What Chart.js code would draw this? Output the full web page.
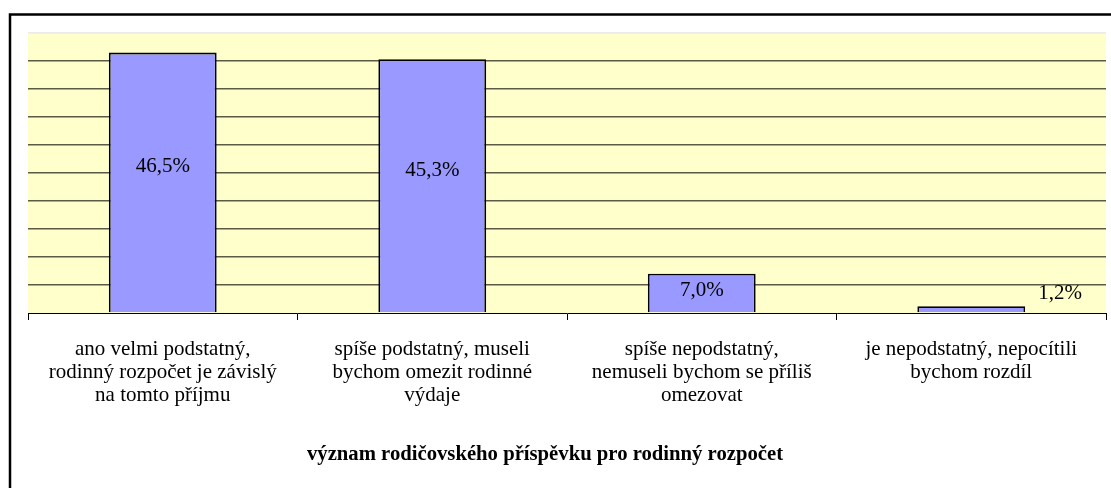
<!DOCTYPE html>
<html>
<head>
<meta charset="utf-8">
<script src="https://cdn.jsdelivr.net/npm/chart.js@4.4.0/dist/chart.umd.min.js"></script>
<style>
  html, body { margin: 0; padding: 0; background: #fff; }
</style>
</head>
<body>
<canvas id="graf" width="1111" height="488"></canvas>
<script>
// data
const kategorie = [
    ['ano velmi podstatný,', 'rodinný rozpočet je závislý', 'na tomto příjmu'],
    ['spíše podstatný, museli', 'bychom omezit rodinné', 'výdaje'],
    ['spíše nepodstatný,', 'nemuseli bychom se příliš', 'omezovat'],
    ['je nepodstatný, nepocítili', 'bychom rozdíl']
];
const podily = [46.5, 45.3, 7.0, 1.2];
const popisky = ['46,5%', '45,3%', '7,0%', '1,2%'];
const nazevOsy = 'význam rodičovského příspěvku pro rodinný rozpočet';

const pismo = '"Liberation Serif", "Times New Roman", serif';

// pozadi, ramecek, popisky hodnot, nazev osy
const kresleni = {
    id: 'kresleni',
    beforeDraw(chart) {
        const ctx = chart.ctx;
        const a = chart.chartArea;
        ctx.save();
        ctx.fillStyle = '#fff';
        ctx.fillRect(0, 0, chart.width, chart.height);
        ctx.fillStyle = '#FFFFCC';
        ctx.fillRect(a.left, a.top, a.right - a.left, a.bottom - a.top);
        ctx.strokeStyle = '#000';
        ctx.lineWidth = 2.5;
        ctx.strokeRect(10, 14.5, chart.width + 20, chart.height + 20);
        ctx.restore();
    },
    afterDraw(chart) {
        const ctx = chart.ctx;
        const meta = chart.getDatasetMeta(0);
        ctx.save();
        ctx.fillStyle = '#000';
        ctx.font = '21px ' + pismo;
        ctx.textAlign = 'center';
        ctx.textBaseline = 'middle';
        meta.data.forEach((bar, i) => {
            const vyska = bar.base - bar.y;
            if (vyska > 30) {
                ctx.fillText(popisky[i], bar.x, (bar.y + bar.base) / 2 - vyska * 0.06);
            } else {
                // kratky sloupec - popisek vedle
                ctx.fillText(popisky[i], bar.x + bar.width / 2 + 35, bar.y - 13);
            }
        });
        ctx.font = 'bold 20.7px ' + pismo;
        ctx.fillText(nazevOsy, 545, 455);
        ctx.restore();
    }
};

new Chart(document.getElementById('graf'), {
    type: 'bar',
    data: {
        labels: kategorie,
        datasets: [{
            data: podily,
            backgroundColor: '#9999FF',
            borderColor: '#000',
            borderWidth: 1.8,
            barPercentage: 0.4,
            categoryPercentage: 1
        }]
    },
    options: {
        responsive: false,
        animation: false,
        layout: { padding: { left: 28, right: 5, top: 33, bottom: 0 } },
        plugins: {
            legend: { display: false },
            tooltip: { enabled: false }
        },
        scales: {
            x: {
                afterFit(scale) { scale.height = 175; },
                border: { display: true, color: '#000', width: 1 },
                grid: {
                    offset: true,
                    drawOnChartArea: false,
                    drawTicks: true,
                    tickLength: 7,
                    color: '#000'
                },
                ticks: {
                    color: '#000',
                    padding: 18,
                    maxRotation: 0,
                    autoSkip: false,
                    font: { family: pismo, size: 21, lineHeight: 1.1 }
                }
            },
            y: {
                min: 0,
                max: 50,
                afterFit(scale) { scale.width = 0; },
                border: { display: false },
                ticks: { display: false, stepSize: 5 },
                grid: {
                    drawTicks: false,
                    color: (c) => {
                        if (c.tick.value === 0) return 'rgba(0,0,0,0)';
                        if (c.tick.value === 50) return 'rgba(0,0,0,0.08)';
                        return '#5a5a45';
                    },
                    lineWidth: 1.5
                }
            }
        }
    },
    plugins: [kresleni]
});
</script>
</body>
</html>
